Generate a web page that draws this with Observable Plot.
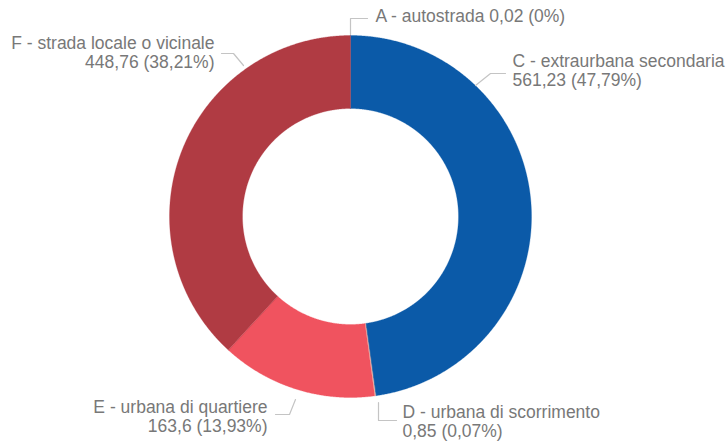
<!DOCTYPE html>
<html>
<head>
<meta charset="utf-8">
<script src="https://cdn.jsdelivr.net/npm/d3@7"></script>
<script src="https://cdn.jsdelivr.net/npm/@observablehq/plot@0.6"></script>
<style>
  html, body { margin: 0; padding: 0; background: #fff; }
  #chart svg { display: block; }
</style>
</head>
<body>
<div id="chart"></div>
<script>
// Road categories and their totals
const categories = [
  "A - autostrada",
  "C - extraurbana secondaria",
  "D - urbana di scorrimento",
  "E - urbana di quartiere",
  "F - strada locale o vicinale"
];
const values = [0.02, 561.23, 0.85, 163.6, 448.76];
const valueLabels = ["0,02", "561,23", "0,85", "163,6", "448,76"];
const percentLabels = ["0%", "47,79%", "0,07%", "13,93%", "38,21%"];
const sliceColors = ["#6d8fcf", "#0b5aa8", "#f6d2b4", "#f0535f", "#b03b43"];

// Canvas and ring geometry (pixels)
const W = 727, H = 444;
const cx = 350, cy = 216;
const outerR = 181, innerR = 108;

// Label placement around the ring: text anchor point and leader path
const labelLayout = {
  "A - autostrada":               {anchor: "start", tx: 25,   ty: 200, lines: 1, leader: [[0, 182], [0, 198], [17, 198]]},
  "C - extraurbana secondaria":   {anchor: "start", tx: 162,  ty: 146, lines: 2, leader: [[125, 131], [140, 143], [155, 143]]},
  "D - urbana di scorrimento":    {anchor: "start", tx: 52,   ty: -205, lines: 2, leader: [[28, -186], [28, -204], [46, -204]]},
  "E - urbana di quartiere":      {anchor: "end",   tx: -83,  ty: -200, lines: 2, leader: [[-55, -183], [-61, -198], [-75, -198]]},
  "F - strada locale o vicinale": {anchor: "end",   tx: -136, ty: 164, lines: 2, leader: [[-107, 151], [-117, 163], [-129, 163]]}
};

const slices = categories.map((c, i) => ({category: c, value: values[i]}));
const arcs = d3.pie().sort(null).value(d => d.value)(slices);

// Polygon outline of each donut slice (clockwise from 12 o'clock, y up)
const ringPoints = [];
for (const a of arcs) {
  const n = Math.max(2, Math.ceil((a.endAngle - a.startAngle) / 0.005));
  const outer = d3.range(n + 1).map(k => a.startAngle + (a.endAngle - a.startAngle) * k / n);
  for (const t of outer) ringPoints.push({category: a.data.category, x: outerR * Math.sin(t), y: outerR * Math.cos(t)});
  for (const t of outer.slice().reverse()) ringPoints.push({category: a.data.category, x: innerR * Math.sin(t), y: innerR * Math.cos(t)});
}

const leaderPoints = categories.flatMap(c =>
  labelLayout[c].leader.map(([x, y]) => ({category: c, x, y}))
);

const labels = categories.map((c, i) => {
  const L = labelLayout[c];
  const text = L.lines === 1
    ? `${c} ${valueLabels[i]} (${percentLabels[i]})`
    : `${c}\n${valueLabels[i]} (${percentLabels[i]})`;
  return {category: c, x: L.tx, y: L.ty, text, anchor: L.anchor};
});

const chart = Plot.plot({
  width: W,
  height: H,
  margin: 0,
  style: {fontFamily: "Arial, 'Liberation Sans', sans-serif", background: "#fff"},
  x: {domain: [-cx, W - cx], range: [0, W], axis: null},
  y: {domain: [cy - H, cy], range: [H, 0], axis: null},
  color: {domain: categories, range: sliceColors},
  marks: [
    Plot.line(ringPoints, {
      x: "x", y: "y", z: "category",
      fill: "category", stroke: "category", strokeWidth: 0.3,
      curve: "linear-closed"
    }),
    Plot.line(leaderPoints, {
      x: "x", y: "y", z: "category",
      stroke: "#c4c4c4", strokeWidth: 1.2
    }),
    Plot.text(labels.filter(d => d.anchor === "start"), {
      x: "x", y: "y", text: "text", textAnchor: "start",
      fontSize: 17.5, lineHeight: 1.06, fill: "#787878"
    }),
    Plot.text(labels.filter(d => d.anchor === "end"), {
      x: "x", y: "y", text: "text", textAnchor: "end",
      fontSize: 17.5, lineHeight: 1.06, fill: "#787878"
    })
  ]
});

document.getElementById("chart").appendChild(chart);
</script>
</body>
</html>
